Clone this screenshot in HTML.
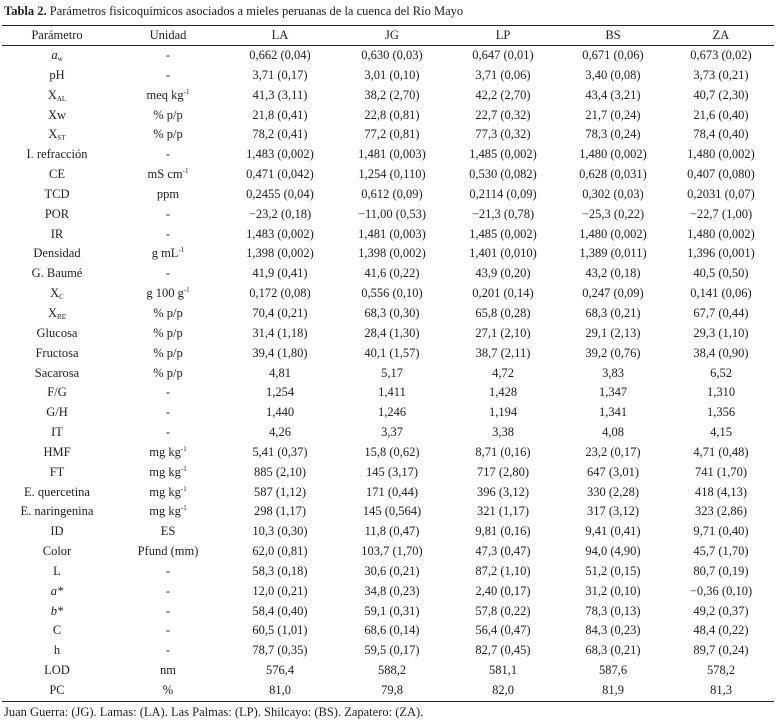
<!DOCTYPE html>
<html><head><meta charset="utf-8"><style>
body{margin:0;background:#fff;width:781px;height:722px;overflow:hidden;font-family:"Liberation Serif",serif;color:#222;}
.t{position:absolute;left:4px;top:4px;font-size:12.5px;white-space:nowrap;}
table{position:absolute;left:2px;top:25px;width:772px;border-collapse:collapse;table-layout:fixed;font-size:12.5px;}
td,th{text-align:center;padding:0;white-space:nowrap;font-weight:normal;height:19.85px;line-height:19.85px;}
thead th{height:19px;line-height:19px;border-top:1.6px solid #222;border-bottom:1.3px solid #222;}
tbody tr:last-child td{border-bottom:1.6px solid #222;}
sub{font-size:7px;vertical-align:-2px;line-height:0}
sup{font-size:7px;vertical-align:5px;line-height:0}
.f{position:absolute;left:4px;top:705px;font-size:12.5px;white-space:nowrap;}
</style></head><body>
<div class="t"><b>Tabla 2.</b> Parámetros fisicoquímicos asociados a mieles peruanas de la cuenca del Río Mayo</div>
<table>
<colgroup><col style="width:110px"><col style="width:112px"><col style="width:112px"><col style="width:112px"><col style="width:110px"><col style="width:110px"><col style="width:106px"></colgroup>
<thead><tr><th>Parámetro</th><th>Unidad</th><th>LA</th><th>JG</th><th>LP</th><th>BS</th><th>ZA</th></tr></thead>
<tbody>
<tr><td><i>a</i><sub>w</sub></td><td>-</td><td>0,662 (0,04)</td><td>0,630 (0,03)</td><td>0,647 (0,01)</td><td>0,671 (0,06)</td><td>0,673 (0,02)</td></tr>
<tr><td>pH</td><td>-</td><td>3,71 (0,17)</td><td>3,01 (0,10)</td><td>3,71 (0,06)</td><td>3,40 (0,08)</td><td>3,73 (0,21)</td></tr>
<tr><td>X<sub>AL</sub></td><td>meq kg<sup>-1</sup></td><td>41,3 (3,11)</td><td>38,2 (2,70)</td><td>42,2 (2,70)</td><td>43,4 (3,21)</td><td>40,7 (2,30)</td></tr>
<tr><td>Xw</td><td>% p/p</td><td>21,8 (0,41)</td><td>22,8 (0,81)</td><td>22,7 (0,32)</td><td>21,7 (0,24)</td><td>21,6 (0,40)</td></tr>
<tr><td>X<sub>ST</sub></td><td>% p/p</td><td>78,2 (0,41)</td><td>77,2 (0,81)</td><td>77,3 (0,32)</td><td>78,3 (0,24)</td><td>78,4 (0,40)</td></tr>
<tr><td>I. refracción</td><td>-</td><td>1,483 (0,002)</td><td>1,481 (0,003)</td><td>1,485 (0,002)</td><td>1,480 (0,002)</td><td>1,480 (0,002)</td></tr>
<tr><td>CE</td><td>mS cm<sup>-1</sup></td><td>0,471 (0,042)</td><td>1,254 (0,110)</td><td>0,530 (0,082)</td><td>0,628 (0,031)</td><td>0,407 (0,080)</td></tr>
<tr><td>TCD</td><td>ppm</td><td>0,2455 (0,04)</td><td>0,612 (0,09)</td><td>0,2114 (0,09)</td><td>0,302 (0,03)</td><td>0,2031 (0,07)</td></tr>
<tr><td>POR</td><td>-</td><td>−23,2 (0,18)</td><td>−11,00 (0,53)</td><td>−21,3 (0,78)</td><td>−25,3 (0,22)</td><td>−22,7 (1,00)</td></tr>
<tr><td>IR</td><td>-</td><td>1,483 (0,002)</td><td>1,481 (0,003)</td><td>1,485 (0,002)</td><td>1,480 (0,002)</td><td>1,480 (0,002)</td></tr>
<tr><td>Densidad</td><td>g mL<sup>-1</sup></td><td>1,398 (0,002)</td><td>1,398 (0,002)</td><td>1,401 (0,010)</td><td>1,389 (0,011)</td><td>1,396 (0,001)</td></tr>
<tr><td>G. Baumé</td><td>-</td><td>41,9 (0,41)</td><td>41,6 (0,22)</td><td>43,9 (0,20)</td><td>43,2 (0,18)</td><td>40,5 (0,50)</td></tr>
<tr><td>X<sub>C</sub></td><td>g 100 g<sup>-1</sup></td><td>0,172 (0,08)</td><td>0,556 (0,10)</td><td>0,201 (0,14)</td><td>0,247 (0,09)</td><td>0,141 (0,06)</td></tr>
<tr><td>X<sub>RE</sub></td><td>% p/p</td><td>70,4 (0,21)</td><td>68,3 (0,30)</td><td>65,8 (0,28)</td><td>68,3 (0,21)</td><td>67,7 (0,44)</td></tr>
<tr><td>Glucosa</td><td>% p/p</td><td>31,4 (1,18)</td><td>28,4 (1,30)</td><td>27,1 (2,10)</td><td>29,1 (2,13)</td><td>29,3 (1,10)</td></tr>
<tr><td>Fructosa</td><td>% p/p</td><td>39,4 (1,80)</td><td>40,1 (1,57)</td><td>38,7 (2,11)</td><td>39,2 (0,76)</td><td>38,4 (0,90)</td></tr>
<tr><td>Sacarosa</td><td>% p/p</td><td>4,81</td><td>5,17</td><td>4,72</td><td>3,83</td><td>6,52</td></tr>
<tr><td>F/G</td><td>-</td><td>1,254</td><td>1,411</td><td>1,428</td><td>1,347</td><td>1,310</td></tr>
<tr><td>G/H</td><td>-</td><td>1,440</td><td>1,246</td><td>1,194</td><td>1,341</td><td>1,356</td></tr>
<tr><td>IT</td><td>-</td><td>4,26</td><td>3,37</td><td>3,38</td><td>4,08</td><td>4,15</td></tr>
<tr><td>HMF</td><td>mg kg<sup>-1</sup></td><td>5,41 (0,37)</td><td>15,8 (0,62)</td><td>8,71 (0,16)</td><td>23,2 (0,17)</td><td>4,71 (0,48)</td></tr>
<tr><td>FT</td><td>mg kg<sup>-1</sup></td><td>885 (2,10)</td><td>145 (3,17)</td><td>717 (2,80)</td><td>647 (3,01)</td><td>741 (1,70)</td></tr>
<tr><td>E. quercetina</td><td>mg kg<sup>-1</sup></td><td>587 (1,12)</td><td>171 (0,44)</td><td>396 (3,12)</td><td>330 (2,28)</td><td>418 (4,13)</td></tr>
<tr><td>E. naringenina</td><td>mg kg<sup>-1</sup></td><td>298 (1,17)</td><td>145 (0,564)</td><td>321 (1,17)</td><td>317 (3,12)</td><td>323 (2,86)</td></tr>
<tr><td>ID</td><td>ES</td><td>10,3 (0,30)</td><td>11,8 (0,47)</td><td>9,81 (0,16)</td><td>9,41 (0,41)</td><td>9,71 (0,40)</td></tr>
<tr><td>Color</td><td>Pfund (mm)</td><td>62,0 (0,81)</td><td>103,7 (1,70)</td><td>47,3 (0,47)</td><td>94,0 (4,90)</td><td>45,7 (1,70)</td></tr>
<tr><td>L</td><td>-</td><td>58,3 (0,18)</td><td>30,6 (0,21)</td><td>87,2 (1,10)</td><td>51,2 (0,15)</td><td>80,7 (0,19)</td></tr>
<tr><td><i>a*</i></td><td>-</td><td>12,0 (0,21)</td><td>34,8 (0,23)</td><td>2,40 (0,17)</td><td>31,2 (0,10)</td><td>−0,36 (0,10)</td></tr>
<tr><td><i>b*</i></td><td>-</td><td>58,4 (0,40)</td><td>59,1 (0,31)</td><td>57,8 (0,22)</td><td>78,3 (0,13)</td><td>49,2 (0,37)</td></tr>
<tr><td>C</td><td>-</td><td>60,5 (1,01)</td><td>68,6 (0,14)</td><td>56,4 (0,47)</td><td>84,3 (0,23)</td><td>48,4 (0,22)</td></tr>
<tr><td>h</td><td>-</td><td>78,7 (0,35)</td><td>59,5 (0,17)</td><td>82,7 (0,45)</td><td>68,3 (0,21)</td><td>89,7 (0,24)</td></tr>
<tr><td>LOD</td><td>nm</td><td>576,4</td><td>588,2</td><td>581,1</td><td>587,6</td><td>578,2</td></tr>
<tr><td>PC</td><td>%</td><td>81,0</td><td>79,8</td><td>82,0</td><td>81,9</td><td>81,3</td></tr>
</tbody></table>
<div class="f">Juan Guerra: (JG). Lamas: (LA). Las Palmas: (LP). Shilcayo: (BS). Zapatero: (ZA).</div>
</body></html>
